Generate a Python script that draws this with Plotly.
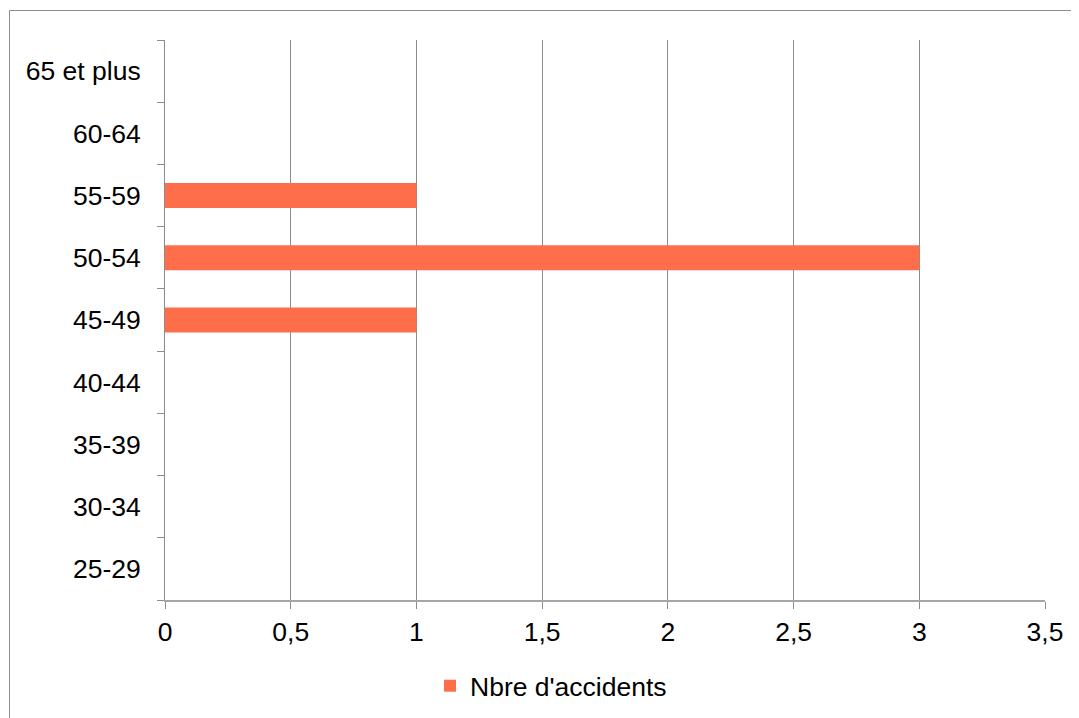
import plotly.graph_objects as go

categories = ["25-29", "30-34", "35-39", "40-44", "45-49", "50-54", "55-59", "60-64", "65 et plus"]
values = [0, 0, 0, 0, 1, 3, 1, 0, 0]
series_name = "Nbre d'accidents"
x_ticks = [0, 0.5, 1, 1.5, 2, 2.5, 3, 3.5]

OFF = 8  # page body margin
W, H = 1079 - OFF, 718 - OFF
L, T = 165 - OFF, 40 - OFF
pw, ph = 880, 560
R, B = W - L - pw, H - T - ph

def px_x(p):
    return (p - OFF - L) / pw

def px_y(p):
    return (T + ph - (p - OFF)) / ph

fig = go.Figure()
fig.add_trace(go.Bar(
    y=categories, x=values, orientation="h", name=series_name,
    marker=dict(color="#FF6E4B", line=dict(width=0)),
    showlegend=True,
))

font = dict(family="Liberation Sans, Arial, sans-serif", size=26.5, color="#000000")

fig.update_layout(
    width=W, height=H,
    margin=dict(l=L, r=R, t=T, b=B, autoexpand=False),
    paper_bgcolor="white", plot_bgcolor="white",
    font=font,
    separators=", ",
    bargap=0.6,
    showlegend=True,
    legend=dict(x=px_x(430), y=px_y(686), xanchor="left", yanchor="middle",
                orientation="h", font=font, bgcolor="rgba(0,0,0,0)"),
    xaxis=dict(
        range=[0, 3.5], tickvals=x_ticks, showgrid=True, gridcolor="#8C8C8C", gridwidth=1,
        zeroline=False, showline=True, linecolor="#A6A6A6", linewidth=1.5,
        ticks="outside", ticklen=7, tickcolor="#8C8C8C", tickwidth=1,
        tickfont=font, ticklabelstandoff=0,
    ),
    yaxis=dict(
        type="category", categoryorder="array", categoryarray=categories,
        showgrid=False, zeroline=False, showline=True, linecolor="#8C8C8C", linewidth=1,
        ticks="outside", ticklen=7, tickcolor="#8C8C8C", tickwidth=1, tickson="boundaries",
        tickfont=font, ticklabelstandoff=18,
    ),
    shapes=[dict(type="rect", xref="paper", yref="paper",
                 x0=px_x(9.5), x1=px_x(1200), y0=px_y(10.5), y1=px_y(800),
                 line=dict(color="#8C8C8C", width=1), fillcolor="rgba(0,0,0,0)", layer="below")],
)

fig.write_html("out.html")
